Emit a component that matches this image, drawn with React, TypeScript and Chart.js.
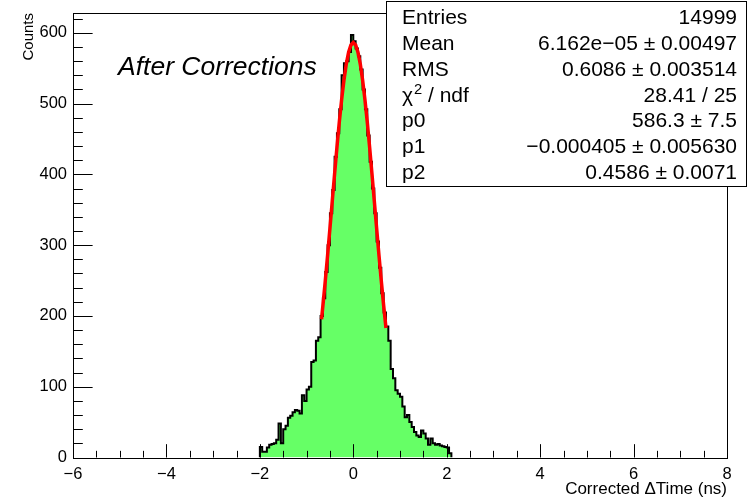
import React, { useEffect, useRef } from "react";
import { Chart, registerables } from "chart.js";

Chart.register(...registerables);

// ---- data ----
const binStart = -2.0;
const binWidth = 0.05;
const counts = [
  15, 8, 8, 14, 18, 19, 20, 25, 48, 20,
  40, 45, 56, 59, 64, 67, 66, 62, 88, 80,
  96, 100, 135, 137, 165, 170, 200, 225, 262, 300,
  345, 378, 425, 458, 492, 540, 557, 560, 573, 597,
  588, 578, 567, 548, 520, 492, 455, 418, 380, 345,
  305, 268, 232, 205, 185, 165, 125, 112, 95, 90,
  86, 72, 57, 60, 50, 43, 36, 31, 29, 38,
  34, 27, 18, 27, 20, 18, 19, 17, 16, 15,
  14, 6,
];
const fitX = [
  -0.68, -0.65, -0.6, -0.55, -0.5, -0.45, -0.4, -0.35, -0.3, -0.25, -0.2, -0.15, -0.1, -0.05,
  0, 0.05, 0.1, 0.15, 0.2, 0.25, 0.3, 0.35, 0.4, 0.45, 0.5, 0.55, 0.6, 0.65, 0.7,
];
const fitY = [
  195.3, 214.8, 249.1, 285.6, 323.6, 362.3, 400.8, 438.1, 473.4, 505.3, 533.1, 555.8, 572.5, 582.8,
  586.3, 582.8, 572.5, 555.8, 533.1, 505.3, 473.4, 438.1, 400.8, 362.3, 323.6, 285.6, 249.1, 214.8, 182.9,
];
const xTickValues = [-6, -4, -2, 0, 2, 4, 6, 8];
const yTickValues = [0, 100, 200, 300, 400, 500, 600];
const xMin = -6;
const xMax = 8;
const yMin = 0;
const yMax = 628;
const xMinorStep = 0.5;
const yMinorStep = 20;
const statLabels = ["Entries", "Mean", "RMS", "CHI2", "p0", "p1", "p2"];
const statValues = [
  "14999",
  "6.162e\u221205 \u00b1 0.00497",
  "0.6086 \u00b1 0.003514",
  "28.41 / 25",
  "586.3 \u00b1 7.5",
  "\u22120.000405 \u00b1 0.005630",
  "0.4586 \u00b1 0.0071",
];
const plotLabel = "After Corrections";
const xTitle = "Corrected \u0394Time (ns)";
const yTitle = "Counts";

const FONT = "'Liberation Sans', Arial, Helvetica, sans-serif";
const fmt = (v: number) => String(v).replace("-", "\u2212");

const rootPlugin = {
  id: "rootDecor",
  afterDatasetsDraw(chart: any) {
    const { ctx, chartArea: a, scales } = chart;
    const xs = scales.x;
    const ys = scales.y;
    ctx.save();
    ctx.strokeStyle = "#000";
    ctx.lineWidth = 1;
    const h = a.bottom - a.top;
    const w = a.right - a.left;
    ctx.beginPath();
    for (let v = xMin; v <= xMax + 1e-9; v += xMinorStep) {
      const px = Math.round(xs.getPixelForValue(v)) + 0.5;
      const major = xTickValues.some((t) => Math.abs(t - v) < 1e-9);
      const len = major ? 0.03 * h : 0.015 * h;
      ctx.moveTo(px, a.bottom);
      ctx.lineTo(px, a.bottom - len);
    }
    for (let v = yMin; v <= yMax + 1e-9; v += yMinorStep) {
      const py = Math.round(ys.getPixelForValue(v)) + 0.5;
      const major = yTickValues.some((t) => Math.abs(t - v) < 1e-9);
      const len = major ? 0.03 * w : 0.015 * w;
      ctx.moveTo(a.left, py);
      ctx.lineTo(a.left + len, py);
    }
    ctx.stroke();
    ctx.strokeRect(Math.round(a.left) + 0.5, Math.round(a.top) + 0.5, Math.round(w), Math.round(h));
    ctx.restore();
  },
  afterDraw(chart: any) {
    const { ctx } = chart;
    ctx.save();
    ctx.fillStyle = "#000";
    ctx.font = `italic 26.5px ${FONT}`;
    ctx.textBaseline = "middle";
    ctx.textAlign = "left";
    ctx.fillText(plotLabel, 118, 68);

    const bx = 386.5, by = 1.5, bw = 360, bh = 185;
    ctx.fillStyle = "#fff";
    ctx.fillRect(bx, by, bw, bh);
    ctx.strokeStyle = "#000";
    ctx.lineWidth = 1;
    ctx.strokeRect(bx, by, bw, bh);
    ctx.fillStyle = "#000";
    const fs = 21;
    for (let i = 0; i < statLabels.length; i++) {
      const y = 18.5 + i * 25.8;
      ctx.font = `${fs}px ${FONT}`;
      ctx.textAlign = "left";
      if (statLabels[i] === "CHI2") {
        let x = 402;
        ctx.fillText("\u03c7", x, y);
        x += ctx.measureText("\u03c7").width + 1;
        ctx.font = `${fs * 0.7}px ${FONT}`;
        ctx.fillText("2", x, y - 6);
        x += ctx.measureText("2").width;
        ctx.font = `${fs}px ${FONT}`;
        ctx.fillText(" / ndf", x, y);
      } else {
        ctx.fillText(statLabels[i], 402, y);
      }
      ctx.textAlign = "right";
      ctx.fillText(statValues[i], 737, y);
    }
    ctx.restore();
  },
};

export default function App() {
  const ref = useRef<HTMLCanvasElement | null>(null);
  useEffect(() => {
    if (!ref.current) return;
    const histPoints = [{ x: binStart, y: 0 }]
      .concat(counts.map((c, i) => ({ x: binStart + i * binWidth, y: c })))
      .concat([{ x: binStart + counts.length * binWidth, y: 0 }]);
    const fitPoints = fitX.map((x, i) => ({ x, y: fitY[i] }));
    const chart = new Chart(ref.current, {
      type: "line",
      data: {
        datasets: [
          {
            label: "fit",
            data: fitPoints,
            borderColor: "#ff0000",
            borderWidth: 3.5,
            pointRadius: 0,
            fill: false,
            tension: 0,
          },
          {
            label: "hist",
            data: histPoints,
            stepped: "before",
            borderColor: "#000",
            borderWidth: 2,
            backgroundColor: "rgb(102,255,102)",
            fill: "origin",
            pointRadius: 0,
            tension: 0,
          },
        ],
      },
      options: {
        animation: false,
        responsive: false,
        events: [],
        layout: { padding: { top: 13, right: 23, left: 0, bottom: 0 } },
        plugins: { legend: { display: false }, tooltip: { enabled: false } },
        scales: {
          x: {
            type: "linear",
            position: "bottom",
            min: xMin,
            max: xMax,
            grid: { display: false, drawTicks: false },
            border: { display: false },
            afterBuildTicks: (s: any) => {
              s.ticks = xTickValues.map((v) => ({ value: v }));
            },
            afterFit: (s: any) => {
              s.height = 44.5;
              s.paddingLeft = 0;
              s.paddingRight = 0;
            },
            ticks: {
              color: "#000",
              font: { family: FONT, size: 16.5 },
              padding: 7,
              maxRotation: 0,
              autoSkip: false,
              callback: (v: any) => fmt(v),
            },
            title: {
              display: true,
              text: xTitle,
              align: "end",
              color: "#000",
              font: { family: FONT, size: 17 },
              padding: { top: 0, bottom: 2 },
            },
          },
          y: {
            type: "linear",
            position: "left",
            min: yMin,
            max: yMax,
            grid: { display: false, drawTicks: false },
            border: { display: false },
            afterBuildTicks: (s: any) => {
              s.ticks = yTickValues.map((v) => ({ value: v }));
            },
            afterFit: (s: any) => {
              s.width = 73;
              s.paddingTop = 0;
              s.paddingBottom = 0;
            },
            ticks: {
              color: "#000",
              font: { family: FONT, size: 16.5 },
              padding: 6,
              autoSkip: false,
              callback: (v: any) => fmt(v),
            },
            title: {
              display: true,
              text: yTitle,
              align: "end",
              color: "#000",
              font: { family: FONT, size: 15 },
              padding: { top: 20, bottom: 0 },
            },
          },
        },
      },
      plugins: [rootPlugin],
    } as any);
    return () => chart.destroy();
  }, []);
  return (
    <div style={{ position: "absolute", left: 0, top: 0, width: 750, height: 502, background: "#fff" }}>
      <canvas ref={ref} width={750} height={502} style={{ display: "block" }} />
    </div>
  );
}
